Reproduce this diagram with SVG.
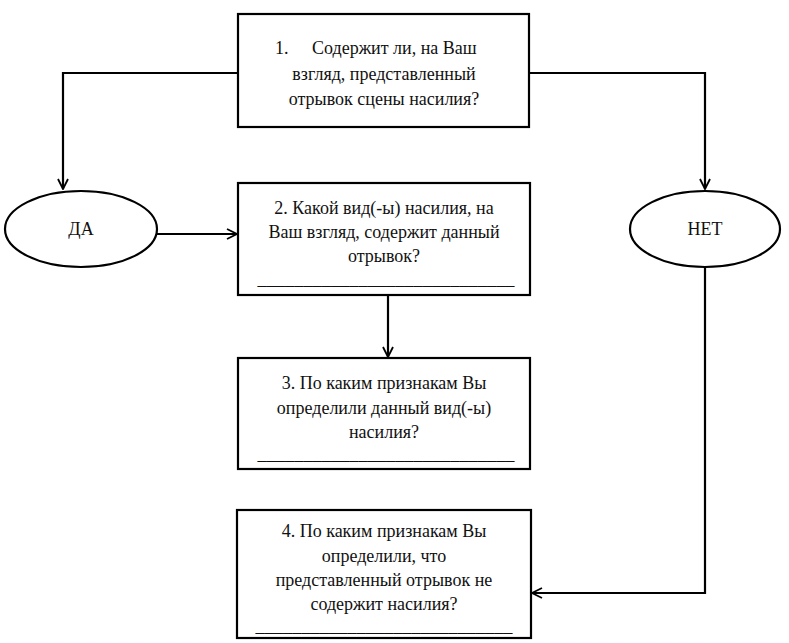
<svg xmlns="http://www.w3.org/2000/svg" width="789" height="643" viewBox="0 0 789 643">
<defs>
<marker id="arr" viewBox="0 0 12 12" refX="11" refY="6" markerWidth="12" markerHeight="12" markerUnits="userSpaceOnUse" orient="auto">
<path d="M1,1 L11,6 L1,11" fill="none" stroke="#000" stroke-width="1.8"/>
</marker>
<style>
.box{fill:#fff;stroke:#000;stroke-width:2.2}
.t{font-family:'Liberation Serif','DejaVu Serif',serif;font-size:18px;fill:#111;text-anchor:middle}
.c{fill:none;stroke:#000;stroke-width:2.2}
</style>
</defs>
<rect width="789" height="643" fill="#fff"/>
<g id="connectors">
<polyline class="c" points="238,73 63,73 63,189" marker-end="url(#arr)"/>
<polyline class="c" points="529,73 705,73 705,189" marker-end="url(#arr)"/>
<line class="c" x1="157" y1="234" x2="237" y2="234" marker-end="url(#arr)"/>
<line class="c" x1="388" y1="295" x2="388" y2="357" marker-end="url(#arr)"/>
<polyline class="c" points="705,267 705,593 532,593" marker-end="url(#arr)"/>
</g>
<g id="n1">
<rect class="box" x="238" y="14" width="291" height="113"/>
<text class="t" x="275" y="54" style="text-anchor:start">1.</text>
<text class="t" x="312" y="54" style="text-anchor:start">Содержит ли, на Ваш</text>
<text class="t" x="384" y="80">взгляд, представленный</text>
<text class="t" x="384" y="105">отрывок сцены насилия?</text>
</g>
<g id="da">
<ellipse class="box" cx="81" cy="229" rx="76" ry="38"/>
<text class="t" x="81" y="235">ДА</text>
</g>
<g id="net">
<ellipse class="box" cx="705" cy="229" rx="75" ry="38"/>
<text class="t" x="705" y="235">НЕТ</text>
</g>
<g id="n2">
<rect class="box" x="238" y="183" width="292" height="112"/>
<text class="t" x="384" y="214">2. Какой вид(-ы) насилия, на</text>
<text class="t" x="384" y="238">Ваш взгляд, содержит данный</text>
<text class="t" x="384" y="262">отрывок?</text>
<text class="t" x="386" y="285" textLength="257" lengthAdjust="spacingAndGlyphs">____________________________</text>
</g>
<g id="n3">
<rect class="box" x="238" y="358" width="292" height="111"/>
<text class="t" x="384" y="389">3. По каким признакам Вы</text>
<text class="t" x="384" y="414">определили данный вид(-ы)</text>
<text class="t" x="384" y="438">насилия?</text>
<text class="t" x="386" y="460" textLength="257" lengthAdjust="spacingAndGlyphs">____________________________</text>
</g>
<g id="n4">
<rect class="box" x="237" y="510" width="294" height="128"/>
<text class="t" x="384" y="537">4. По каким признакам Вы</text>
<text class="t" x="384" y="562">определили, что</text>
<text class="t" x="384" y="586">представленный отрывок не</text>
<text class="t" x="384" y="610">содержит насилия?</text>
<text class="t" x="384" y="632" textLength="257" lengthAdjust="spacingAndGlyphs">____________________________</text>
</g>
</svg>
